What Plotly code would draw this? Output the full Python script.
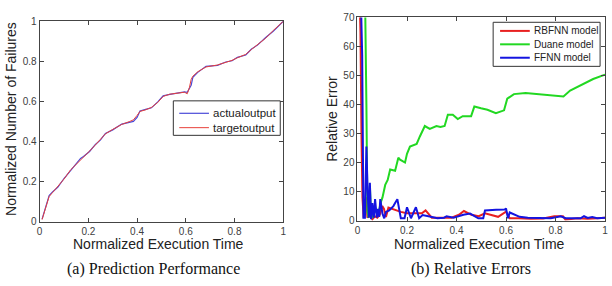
import plotly.graph_objects as go

# ---------------- data: (a) prediction performance ----------------
time_a = [0.01, 0.039, 0.053, 0.075, 0.10, 0.127, 0.15, 0.168, 0.18, 0.205, 0.229, 0.25, 0.27,
          0.30, 0.337, 0.37, 0.385, 0.40, 0.412, 0.435, 0.459, 0.485, 0.507, 0.534, 0.565, 0.595,
          0.606, 0.615, 0.622, 0.629, 0.649, 0.683, 0.73, 0.764, 0.79, 0.812, 0.846, 0.87, 0.893,
          0.927, 0.96, 1.0]
target_out = [0.01, 0.125, 0.145, 0.175, 0.212, 0.258, 0.285, 0.308, 0.322, 0.352, 0.383, 0.41, 0.438,
              0.46, 0.485, 0.50, 0.508, 0.53, 0.55, 0.558, 0.57, 0.595, 0.625, 0.636, 0.64, 0.646,
              0.638, 0.67, 0.71, 0.726, 0.748, 0.772, 0.782, 0.795, 0.805, 0.818, 0.835, 0.86, 0.882,
              0.915, 0.955, 1.0]
actual_out = [0.012, 0.13, 0.148, 0.172, 0.215, 0.255, 0.288, 0.315, 0.325, 0.35, 0.385, 0.408, 0.44,
              0.458, 0.487, 0.498, 0.5, 0.52, 0.552, 0.56, 0.568, 0.598, 0.628, 0.635, 0.642, 0.648,
              0.645, 0.665, 0.68, 0.72, 0.745, 0.775, 0.78, 0.797, 0.803, 0.82, 0.832, 0.862, 0.88,
              0.918, 0.952, 1.0]

# ---------------- data: (b) relative errors ----------------
rbf_x = [0.005, 0.012, 0.016, 0.02, 0.025, 0.03, 0.036, 0.04, 0.05, 0.06, 0.07, 0.08, 0.09, 0.10,
         0.107, 0.115, 0.125, 0.14, 0.155, 0.175, 0.2, 0.23, 0.26, 0.275, 0.3, 0.34, 0.38, 0.41,
         0.43, 0.46, 0.49, 0.515, 0.54, 0.568, 0.6, 0.615, 0.65, 0.7, 0.75, 0.795, 0.83, 0.84,
         0.888, 0.93, 0.97, 1.0]
rbf_err = [90, 65, 30, 8, 1, 3, 8, 1, 2, 0.5, 1.5, 1, 2, 5, 4, 1.2, 4.5, 4, 3.5, 3, 2.5, 2.5,
           2.5, 3.5, 1, 1, 1, 2, 3.3, 2, 1.5, 2.5, 2, 1.3, 3.1, 0.8, 0.8, 0.6, 0.7, 1.5, 1.5,
           0.3, 0.8, 0.6, 0.8, 1.0]

duane_x = [0.028, 0.032, 0.036, 0.04, 0.045, 0.05, 0.055, 0.061, 0.068, 0.075, 0.085, 0.093,
           0.101, 0.112, 0.122, 0.132, 0.152, 0.165, 0.172, 0.192, 0.2, 0.212, 0.239, 0.252,
           0.272, 0.292, 0.319, 0.335, 0.352, 0.365, 0.385, 0.405, 0.425, 0.459, 0.472, 0.499,
           0.525, 0.559, 0.592, 0.605, 0.632, 0.679, 0.725, 0.792, 0.832, 0.859, 0.912, 0.952, 1.0]
duane_err = [95, 75, 40, 3, 1, 12, 1.5, 1, 4, 3, 2.5, 6, 8, 12.3, 14, 17.6, 17.2, 21.7, 21, 20,
             23, 25.5, 26.4, 29, 32.6, 31.6, 32.6, 32.3, 32.6, 36.5, 36.5, 35, 36, 36, 39.3,
             38.7, 38.2, 37, 38, 42, 43.6, 44, 43.6, 43, 42.8, 44.8, 47, 48.8, 50.3]

ffnn_x = [0.005, 0.014, 0.019, 0.024, 0.03, 0.036, 0.041, 0.046, 0.05, 0.055, 0.06, 0.066, 0.071,
          0.078, 0.083, 0.088, 0.092, 0.101, 0.108, 0.115, 0.128, 0.145, 0.161, 0.175, 0.19, 0.2,
          0.216, 0.236, 0.249, 0.263, 0.296, 0.323, 0.35, 0.36, 0.388, 0.428, 0.455, 0.488, 0.508,
          0.515, 0.56, 0.595, 0.6, 0.608, 0.615, 0.635, 0.655, 0.688, 0.728, 0.781, 0.821, 0.841,
          0.901, 0.915, 0.93, 0.948, 0.968, 1.0]
ffnn_err = [95, 75, 57, 1, 1, 25.5, 10, 1, 13, 0.5, 6, 1, 7.4, 1, 4, 1.3, 7.4, 2.4, 0.8, 3, 3.5,
            5, 7.4, 0.8, 0.8, 4.6, 0.8, 4.6, 0.8, 1.9, 1.3, 0.8, 1, 1.5, 1, 2, 2.4, 0.8, 0.8,
            3.5, 3.7, 3.8, 4.2, 0.8, 2.8, 2, 1.3, 1, 1, 0.8, 1.5, 0.8, 0.8, 1.5, 0.9, 1.2, 0.8, 1.0]

ticks_x = [0, 0.2, 0.4, 0.6, 0.8, 1]
ticks_xl = ["0", "0.2", "0.4", "0.6", "0.8", "1"]
ticks_ya = [0, 0.2, 0.4, 0.6, 0.8, 1]
ticks_yal = ["0", "0.2", "0.4", "0.6", "0.8", "1"]
ticks_yb = [0, 10, 20, 30, 40, 50, 60, 70]

names_a = ["actualoutput", "targetoutput"]
names_b = ["RBFNN model", "Duane model", "FFNN model"]
colors_a = ["#4a4ad8", "#e8403a"]
colors_b = ["#e82020", "#22d822", "#1414e0"]

W, H = 612, 286
fig = go.Figure()

fig.add_trace(go.Scatter(x=time_a, y=actual_out, mode="lines", name=names_a[0],
                         line=dict(color=colors_a[0], width=1.2), xaxis="x", yaxis="y"))
fig.add_trace(go.Scatter(x=time_a, y=target_out, mode="lines", name=names_a[1],
                         line=dict(color=colors_a[1], width=1.0), xaxis="x", yaxis="y"))

fig.add_trace(go.Scatter(x=rbf_x, y=rbf_err, mode="lines", name=names_b[0],
                         line=dict(color=colors_b[0], width=2), xaxis="x2", yaxis="y2"))
fig.add_trace(go.Scatter(x=duane_x, y=duane_err, mode="lines", name=names_b[1],
                         line=dict(color=colors_b[1], width=2), xaxis="x2", yaxis="y2"))
fig.add_trace(go.Scatter(x=ffnn_x, y=ffnn_err, mode="lines", name=names_b[2],
                         line=dict(color=colors_b[2], width=2), xaxis="x2", yaxis="y2"))

tickfont = dict(family="Liberation Sans, Arial", size=10, color="#404040")
axcommon = dict(showgrid=False, zeroline=False, showline=True, linecolor="#444",
                linewidth=1, mirror="ticks", ticks="inside", ticklen=4, tickcolor="#444",
                tickfont=tickfont)

fig.update_layout(
    width=W, height=H, margin=dict(l=0, r=0, t=0, b=0),
    paper_bgcolor="white", plot_bgcolor="white", showlegend=False,
    xaxis=dict(domain=[37 / W, 283 / W], range=[0, 1], tickvals=ticks_x, ticktext=ticks_xl,
               anchor="y", **axcommon),
    yaxis=dict(domain=[1 - 225 / H, 1 - 16 / H], range=[0, 1], tickvals=ticks_ya,
               ticktext=ticks_yal, anchor="x", **axcommon),
    xaxis2=dict(domain=[358 / W, 608 / W], range=[0, 1], tickvals=ticks_x, ticktext=ticks_xl,
                anchor="y2", **axcommon),
    yaxis2=dict(domain=[1 - 224 / H, 1 - 12 / H], range=[0, 70], tickvals=ticks_yb,
                anchor="x2", **axcommon),
)

title_font = dict(family="Liberation Sans, Arial", size=14, color="#222")
cap_font = dict(family="Liberation Serif, Times New Roman", size=16, color="#111")
ann = [
    dict(text="Normalized Execution Time", x=157 / W, y=1 - 248 / H, font=title_font),
    dict(text="Normalized Execution Time", x=481 / W, y=1 - 248 / H, font=title_font),
    dict(text="Normalized Number of Failures", x=8 / W, y=1 - 118 / H, textangle=-90,
         font=title_font),
    dict(text="Relative Error", x=332 / W, y=1 - 118 / H, textangle=-90, font=title_font),
    dict(text="(a) Prediction Performance", x=152 / W, y=1 - 275 / H, font=cap_font),
    dict(text="(b) Relative Errors", x=473 / W, y=1 - 275 / H, font=cap_font),
]
for a in ann:
    a.update(xanchor="center", yanchor="middle")

shapes = []


def px_x(v):
    return v / W


def px_y(v):
    return 1 - v / H


def add_legend(box, rows, names, colors, widths, fsize, line_x0, line_x1, text_x):
    x0, x1, y0, y1 = box
    shapes.append(dict(type="rect", xref="paper", yref="paper", x0=px_x(x0), x1=px_x(x1),
                       y0=px_y(y1), y1=px_y(y0), line=dict(color="#333", width=1),
                       fillcolor="white", layer="above"))
    for ry, nm, col, lw in zip(rows, names, colors, widths):
        shapes.append(dict(type="line", xref="paper", yref="paper", x0=px_x(line_x0),
                           x1=px_x(line_x1), y0=px_y(ry), y1=px_y(ry),
                           line=dict(color=col, width=lw), layer="above"))
        ann.append(dict(text=nm, x=px_x(text_x), y=px_y(ry), xanchor="left", yanchor="middle",
                        font=dict(family="Liberation Sans, Arial", size=fsize, color="#222")))


add_legend((172, 280, 99, 135), [112, 127], names_a, colors_a, [1.2, 1.0], 11.5, 178, 208, 210)
add_legend((495, 603, 17, 63), [26, 40, 54], names_b, colors_b, [2, 2, 2], 10, 502, 532, 534)

for a in ann:
    a.update(xref="paper", yref="paper", showarrow=False)
fig.update_layout(annotations=ann, shapes=shapes)

fig.write_html("out.html")
